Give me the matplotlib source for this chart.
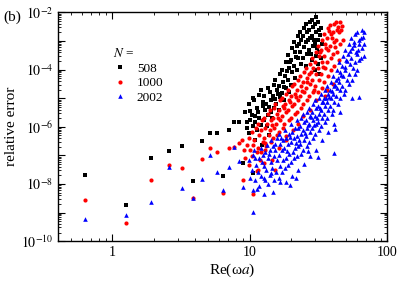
import numpy as np
import matplotlib
matplotlib.use("Agg")
import matplotlib.pyplot as plt
from matplotlib.ticker import LogLocator, FuncFormatter, NullFormatter

plt.rcParams['font.family'] = 'serif'
plt.rcParams['font.serif'] = ['Liberation Serif', 'DejaVu Serif']
plt.rcParams['mathtext.fontset'] = 'stix'

# (Re(omega a), log10 relative error)

pts_508 = [
    (0.634, -7.68), (1.26, -8.74), (1.92, -7.09), (2.57, -6.84), (3.2, -6.66), (3.85, -7.88),
    (4.49, -6.48), (5.13, -6.22), (5.78, -6.20), (6.4, -7.72), (7.06, -6.13), (7.7, -5.85),
    (8.39, -5.85), (8.95, -7.25), (9.59, -5.85), (10.5, -7.60),
    (9.3, -5.48), (9.6, -6.04), (9.8, -5.20), (10.1, -5.76), (9.95, -6.21),
    (10.6, -4.99), (10.3, -5.59), (10.5, -5.97), (10.8, -5.06), (11.2, -5.34), (10.9, -5.83),
    (11.7, -4.89), (11.4, -5.48), (11.6, -5.69), (11.3, -6.11), (12.0, -4.71), (12.4, -5.13), (12.1, -5.93),
    (12.6, -4.92), (13.0, -5.41), (12.7, -5.76), (13.6, -4.64), (13.2, -5.20), (13.5, -5.59), (13.3, -5.97),
    (14.0, -4.78), (14.4, -5.06), (14.2, -5.48), (15.1, -4.54), (14.7, -4.92), (14.9, -5.34), (14.6, -5.69),
    (15.4, -4.36), (15.8, -4.71), (15.5, -5.20), (16.7, -4.15), (16.2, -4.57), (16.5, -4.96), (16.3, -5.41),
    (17.1, -4.01), (17.5, -4.43), (17.2, -4.82), (18.4, -3.73), (18.0, -4.22), (18.3, -4.64), (17.9, -5.06),
    (18.9, -3.49), (19.4, -3.94), (19.0, -4.36), (19.3, -4.78), (20.4, -3.24), (19.9, -3.66), (20.3, -4.08), (20.0, -4.54),
    (20.9, -3.03), (21.4, -3.38), (21.0, -3.87), (21.5, -4.29), (22.5, -2.82), (22.0, -3.17), (22.6, -3.59), (22.1, -4.01),
    (23.2, -2.68), (23.7, -2.96), (23.3, -3.38), (23.8, -3.80), (24.9, -2.54), (24.4, -2.82), (24.8, -3.21), (24.5, -3.59),
    (25.7, -2.40), (26.2, -2.68), (25.8, -3.03), (26.3, -3.45), (25.6, -3.87),
    (27.5, -2.33), (27.0, -2.61), (27.6, -2.89), (27.1, -3.31),
    (28.4, -2.26), (29.0, -2.51), (28.5, -2.82), (29.1, -3.17), (28.6, -3.66),
    (30.5, -2.16), (29.9, -2.40), (30.4, -2.68), (30.0, -3.10), (30.6, -3.52), (30.1, -4.01),
    (31.5, -2.33), (32.0, -2.61), (31.6, -2.96), (32.1, -3.38), (31.4, -3.80), (31.9, -4.15),
    (33.2, -2.54), (33.7, -3.10), (33.0, -3.59),
    (10.0, -5.45), (11.0, -5.62), (12.5, -5.28), (13.9, -5.30), (15.2, -5.02), (16.0, -4.85),
    (17.7, -4.62), (18.6, -4.05), (19.6, -3.75), (21.7, -3.55), (23.0, -3.12), (26.5, -2.95),
    (29.5, -2.95), (31.0, -3.25), (32.6, -2.80), (28.0, -3.45),
    (10.97, -6.46), (12.3, -6.63), (13.7, -6.28),
]

pts_1000 = [
    (0.634, -8.57), (1.26, -9.36), (1.92, -7.86), (2.57, -7.34), (3.2, -7.43), (3.85, -8.49),
    (4.49, -7.13), (5.13, -6.75), (5.78, -6.88), (6.4, -8.30), (7.06, -6.73), (7.7, -6.69),
    (8.39, -6.55), (8.95, -7.87), (10.5, -8.34), (11.3, -7.55),
    (8.8, -6.46), (9.1, -6.81), (9.6, -6.63), (9.3, -7.09), (9.8, -6.39), (10.1, -6.81), (9.9, -7.33),
    (10.3, -6.18), (10.6, -6.63), (10.4, -7.02), (11.1, -6.04), (10.8, -6.46), (11.2, -6.88),
    (11.4, -5.90), (11.7, -6.28), (11.5, -6.74), (11.8, -7.16), (12.3, -5.76), (12.0, -6.11), (12.4, -6.53), (12.1, -6.88),
    (12.6, -5.69), (13.0, -6.04), (12.7, -6.39), (12.9, -6.81), (13.6, -5.55), (13.3, -5.90), (13.7, -6.28), (13.2, -6.67),
    (14.0, -5.41), (14.4, -5.76), (14.1, -6.11), (14.3, -6.53), (15.0, -5.34), (14.7, -5.69), (15.1, -6.04), (14.8, -6.39),
    (15.4, -5.20), (15.8, -5.55), (15.5, -5.90), (15.9, -6.28), (16.7, -5.06), (16.3, -5.41), (16.6, -5.76), (16.2, -6.18),
    (17.1, -4.99), (17.5, -5.27), (17.2, -5.62), (17.6, -6.04),
    (18.4, -4.85), (18.0, -5.20), (18.3, -5.48), (17.9, -5.90), (18.5, -6.32),
    (18.9, -4.71), (19.4, -5.06), (19.0, -5.41), (19.3, -5.76),
    (20.4, -4.57), (19.9, -4.92), (20.3, -5.27), (20.0, -5.69), (20.5, -6.11),
    (20.9, -4.50), (21.4, -4.85), (21.0, -5.20), (21.5, -5.55),
    (22.5, -4.36), (22.0, -4.71), (22.6, -5.06), (22.1, -5.48), (22.4, -5.90),
    (23.2, -4.22), (23.7, -4.57), (23.3, -4.92), (23.8, -5.34),
    (24.9, -4.08), (24.4, -4.43), (24.8, -4.78), (24.5, -5.20), (24.3, -5.62),
    (25.7, -3.94), (26.2, -4.29), (25.8, -4.64), (26.3, -5.06),
    (27.5, -3.80), (27.0, -4.15), (27.6, -4.50), (27.1, -4.92), (27.4, -5.41),
    (28.4, -3.59), (29.0, -3.94), (28.5, -4.36), (29.1, -4.78),
    (30.5, -3.38), (29.9, -3.73), (30.4, -4.15), (30.0, -4.57), (30.6, -5.06),
    (31.5, -3.17), (32.0, -3.52), (31.6, -3.94), (32.1, -4.36), (31.4, -4.78),
    (33.7, -2.96), (33.2, -3.31), (33.6, -3.73), (33.0, -4.15), (33.8, -4.64),
    (34.9, -2.75), (35.5, -3.10), (35.0, -3.52), (35.6, -3.94), (34.8, -4.43), (35.3, -4.92),
    (37.3, -2.54), (36.7, -2.89), (37.4, -3.31), (36.8, -3.73), (37.2, -4.22), (36.6, -4.71),
    (38.6, -2.44), (39.2, -2.75), (38.7, -3.17), (39.3, -3.59), (38.8, -4.01),
    (41.3, -2.40), (40.6, -2.68), (41.2, -3.03), (40.7, -3.45), (41.4, -3.87), (40.5, -4.50),
    (42.7, -2.33), (43.4, -2.61), (42.8, -2.96), (43.5, -3.38),
    (45.7, -2.33), (45.0, -2.68), (45.6, -3.10), (44.9, -3.66), (47.3, -2.47), (48.0, -2.96),
    (12.9, -6.55), (14.5, -5.95), (16.0, -5.70), (17.8, -5.35), (19.6, -5.15), (21.8, -4.95),
    (23.9, -4.75), (26.0, -4.45), (28.0, -4.10), (29.6, -4.70), (32.6, -3.40), (34.3, -3.90),
    (36.0, -3.25), (38.0, -2.65), (40.0, -2.90), (42.0, -3.20), (44.0, -2.50), (46.5, -2.60),
    (12.6, -7.26), (14.6, -7.16), (16.4, -6.74), (18.5, -6.46), (15.4, -7.51), (11.5, -7.51),
]

pts_2002 = [
    (0.634, -9.22), (1.26, -9.10), (1.92, -8.63), (2.57, -7.40), (3.2, -8.13), (3.85, -8.49),
    (4.49, -7.82), (5.13, -6.98), (5.78, -7.57), (6.4, -8.21), (7.06, -7.41), (7.7, -6.71),
    (8.39, -7.18), (8.95, -8.09), (10.5, -8.99), (11.3, -8.18), (12.6, -7.80), (14.3, -7.62),
    (9.8, -7.16), (10.0, -7.79), (10.6, -6.98), (10.3, -7.51), (10.5, -8.21),
    (10.8, -6.81), (11.1, -7.33), (10.9, -7.86), (11.7, -7.09), (11.4, -7.58), (11.6, -8.07),
    (12.0, -6.74), (12.3, -7.23), (12.1, -7.72), (12.9, -6.88), (12.6, -7.37), (13.0, -7.86), (12.7, -8.35),
    (13.3, -6.63), (13.6, -7.09), (13.2, -7.51), (13.5, -8.00), (14.3, -6.46), (14.0, -6.81), (14.4, -7.23), (14.1, -7.68),
    (14.7, -6.67), (15.0, -7.02), (14.6, -7.44), (15.1, -7.86), (14.8, -8.28),
    (15.8, -6.39), (15.4, -6.81), (15.9, -7.16), (15.5, -7.58),
    (16.2, -6.25), (16.7, -6.60), (16.3, -6.98), (16.6, -7.37), (16.4, -7.79),
    (17.5, -6.46), (17.1, -6.81), (17.6, -7.16), (17.2, -7.58),
    (18.0, -6.11), (18.4, -6.39), (17.9, -6.74), (18.5, -7.09), (18.1, -7.44), (18.3, -7.93),
    (19.4, -6.25), (18.9, -6.60), (19.3, -6.95), (19.0, -7.33),
    (19.9, -5.90), (20.4, -6.18), (20.0, -6.53), (20.5, -6.88), (20.1, -7.23), (20.3, -7.72),
    (21.5, -6.04), (21.0, -6.39), (21.4, -6.74), (20.9, -7.09),
    (22.0, -5.76), (22.5, -6.04), (22.1, -6.32), (22.6, -6.67), (22.2, -7.02), (22.4, -7.51),
    (23.8, -5.69), (23.2, -5.97), (23.7, -6.25), (23.3, -6.60), (23.6, -6.95),
    (24.4, -5.55), (24.9, -5.83), (24.5, -6.11), (24.8, -6.46), (24.3, -6.81), (24.7, -7.30),
    (26.2, -5.48), (25.7, -5.76), (26.3, -6.04), (25.8, -6.32), (26.1, -6.67),
    (27.0, -5.34), (27.6, -5.62), (27.1, -5.90), (27.5, -6.18), (27.0, -6.53), (27.4, -7.02),
    (29.0, -5.20), (28.4, -5.48), (29.1, -5.76), (28.5, -6.04), (28.9, -6.39),
    (29.9, -5.06), (30.5, -5.34), (30.0, -5.62), (30.6, -5.90), (30.1, -6.25), (30.4, -6.81),
    (32.1, -4.99), (31.5, -5.27), (32.0, -5.55), (31.4, -5.83), (31.9, -6.11),
    (33.1, -4.85), (33.7, -5.13), (33.2, -5.41), (33.8, -5.69), (33.0, -5.97), (33.6, -6.46),
    (35.5, -4.71), (34.9, -4.99), (35.6, -5.27), (35.0, -5.55), (35.4, -5.83),
    (36.7, -4.57), (37.3, -4.85), (36.8, -5.13), (37.4, -5.41), (36.6, -5.69), (37.2, -6.18),
    (39.3, -4.43), (38.6, -4.71), (39.2, -4.99), (38.7, -5.27), (39.4, -5.55),
    (40.6, -4.22), (41.3, -4.57), (40.7, -4.85), (41.4, -5.13), (40.5, -5.41), (41.2, -5.90),
    (43.5, -4.01), (42.7, -4.36), (43.4, -4.64), (42.8, -4.92), (43.6, -5.20),
    (45.0, -3.73), (45.7, -4.08), (44.9, -4.43), (45.6, -4.71), (45.1, -4.99), (45.8, -5.48),
    (48.1, -3.52), (47.3, -3.87), (48.0, -4.22), (47.2, -4.57), (48.2, -4.85),
    (49.7, -3.31), (50.6, -3.66), (49.8, -4.01), (50.7, -4.36), (49.6, -4.71),
    (53.2, -3.10), (52.3, -3.45), (53.3, -3.80), (52.4, -4.15), (53.1, -4.50),
    (55.0, -2.89), (56.0, -3.24), (55.1, -3.59), (56.1, -3.94), (55.2, -4.36),
    (58.9, -2.75), (57.9, -3.03), (59.0, -3.38), (58.0, -3.73), (58.8, -4.15),
    (60.9, -2.68), (62.0, -2.96), (61.0, -3.31), (62.1, -3.66), (60.8, -4.01),
    (65.2, -2.61), (64.1, -2.89), (65.3, -3.24), (64.2, -3.59),
    (67.5, -2.68), (68.5, -3.10), (67.4, -3.52),
    (11.0, -7.10), (12.4, -7.00), (13.8, -6.95), (15.2, -6.60), (16.9, -6.40), (18.7, -6.85),
    (19.7, -6.35), (21.7, -6.55), (23.0, -6.45), (25.2, -6.20), (26.7, -5.95), (28.0, -5.65),
    (29.5, -5.95), (31.1, -5.70), (32.7, -5.35), (34.3, -5.15), (36.0, -5.00), (38.0, -4.95),
    (39.9, -4.75), (42.0, -4.55), (44.2, -4.30), (46.4, -4.20), (49.0, -3.90), (51.5, -3.70),
    (54.0, -3.35), (57.0, -3.15), (60.0, -3.45), (63.0, -3.10), (66.5, -2.85),
    (55.5, -4.99), (62.5, -4.96), (41.6, -6.07), (41.0, -6.91), (31.2, -7.05), (26.4, -6.84),
    (16.7, -7.93), (19.8, -8.03), (21.9, -7.79),
]

series = [('508', pts_508, 's', '#000000', 2.5),
          ('1000', pts_1000, 'o', '#ff0000', 3.0),
          ('2002', pts_2002, '^', '#0000ff', 3.3)]

fig = plt.figure(figsize=(3.99, 2.83), dpi=100)
ax = fig.add_axes([0.145, 0.148, 0.825, 0.808])

for lab, pts, mk, col, ms in series:
    xs, es = np.array(pts).T
    ax.plot(xs, 10.0 ** es, mk, color=col, ms=ms, mew=0, label=lab)

ax.set_xscale('log')
ax.set_yscale('log')
ax.set_xlim(0.4, 100)
ax.set_ylim(1e-10, 1e-2)

ax.xaxis.set_major_locator(LogLocator(base=10, numticks=10))
ax.xaxis.set_minor_locator(LogLocator(base=10, subs=np.arange(2, 10), numticks=20))
ax.xaxis.set_major_formatter(FuncFormatter(lambda v, p: '%g' % v))
ax.xaxis.set_minor_formatter(NullFormatter())

ax.yaxis.set_major_locator(LogLocator(base=10, numticks=20))
ax.yaxis.set_minor_locator(LogLocator(base=10, subs=np.arange(2, 10), numticks=20))
def yfmt(v, p):
    ex = int(round(np.log10(v)))
    return r'$10^{%d}$' % ex if ex % 2 == 0 else ''
ax.yaxis.set_major_formatter(FuncFormatter(yfmt))
ax.yaxis.set_minor_formatter(NullFormatter())

ax.tick_params(which='both', direction='in', top=True, right=True, labelsize=10)
ax.tick_params(which='major', length=5, width=0.8)
ax.tick_params(which='minor', length=2.5, width=0.6)
for s in ax.spines.values():
    s.set_linewidth(1.0)

ax.set_xlabel('Re(ω$a$)', fontsize=11)
ax.set_ylabel('relative error', fontsize=11)
ax.xaxis.set_label_coords(0.529, -0.09)
ax.yaxis.set_label_coords(-0.12, 0.5)

leg = ax.legend(loc='upper left', bbox_to_anchor=(0.148, 0.877), frameon=False,
                title='$N$ =', fontsize=9.5, title_fontsize=9.5, alignment='left',
                handlelength=1.0, handletextpad=0.8, labelspacing=0.18, borderpad=0,
                markerscale=1.0)

fig.text(0.008, 0.94, '(b)', fontsize=11, va='center')

fig.savefig('out.png', dpi=100)
